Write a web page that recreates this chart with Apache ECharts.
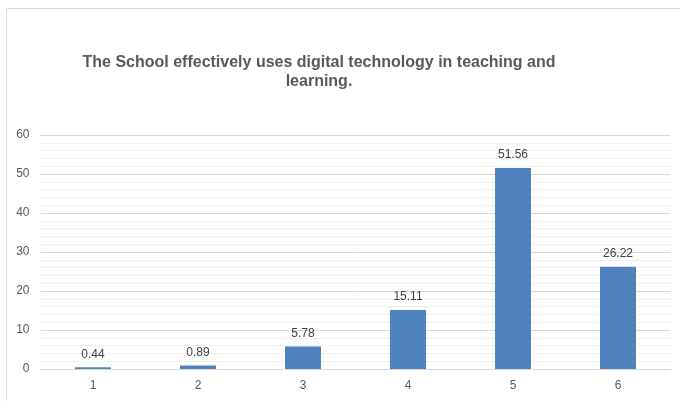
<!DOCTYPE html>
<html><head><meta charset="utf-8">
<script src="https://cdn.jsdelivr.net/npm/echarts@6/dist/echarts.min.js"></script>
<style>html,body{margin:0;padding:0;background:#fff}#c{width:680px;height:401px}</style>
</head><body><div id="c"></div>
<script>
const categories = ['1', '2', '3', '4', '5', '6'];
const values = [0.44, 0.89, 5.78, 15.11, 51.56, 26.22];
const titleText = 'The School effectively uses digital technology in teaching and\nlearning.';

const chart = echarts.init(document.getElementById('c'), null, {renderer: 'canvas'});
chart.setOption({
  animation: false,
  backgroundColor: '#ffffff',
  graphic: [{
    type: 'rect', left: 4, top: 6, z: -1,
    shape: {width: 700, height: 420},
    style: {fill: 'none', stroke: '#d9d9d9', lineWidth: 1}
  }, {
    type: 'text', x: 319, y: 53,
    style: {
      text: titleText, textAlign: 'center', textVerticalAlign: 'top',
      font: 'bold 16px "Liberation Sans"', fill: '#595959', lineHeight: 19
    }
  }],
  grid: {left: 40.5, right: 9.5, top: 135, bottom: 32, containLabel: false},
  xAxis: {
    type: 'category', data: categories,
    axisLine: {show: true, lineStyle: {color: '#d9d9d9'}},
    axisTick: {show: false},
    axisLabel: {color: '#595959', fontFamily: 'Liberation Sans', fontSize: 12, margin: 11}
  },
  yAxis: {
    type: 'value', min: 0, max: 60, interval: 10,
    axisLine: {show: false}, axisTick: {show: false},
    axisLabel: {color: '#595959', fontFamily: 'Liberation Sans', fontSize: 12, margin: 11},
    splitLine: {lineStyle: {color: '#d9d9d9'}},
    minorTick: {show: false, splitNumber: 5},
    minorSplitLine: {show: true, lineStyle: {color: '#efefef'}}
  },
  series: [{
    type: 'bar', data: values, barWidth: 36,
    itemStyle: {color: '#4f81bd'},
    label: {show: true, position: 'top', distance: 7, color: '#404040', fontFamily: 'Liberation Sans', fontSize: 12}
  }]
});
</script></body></html>
